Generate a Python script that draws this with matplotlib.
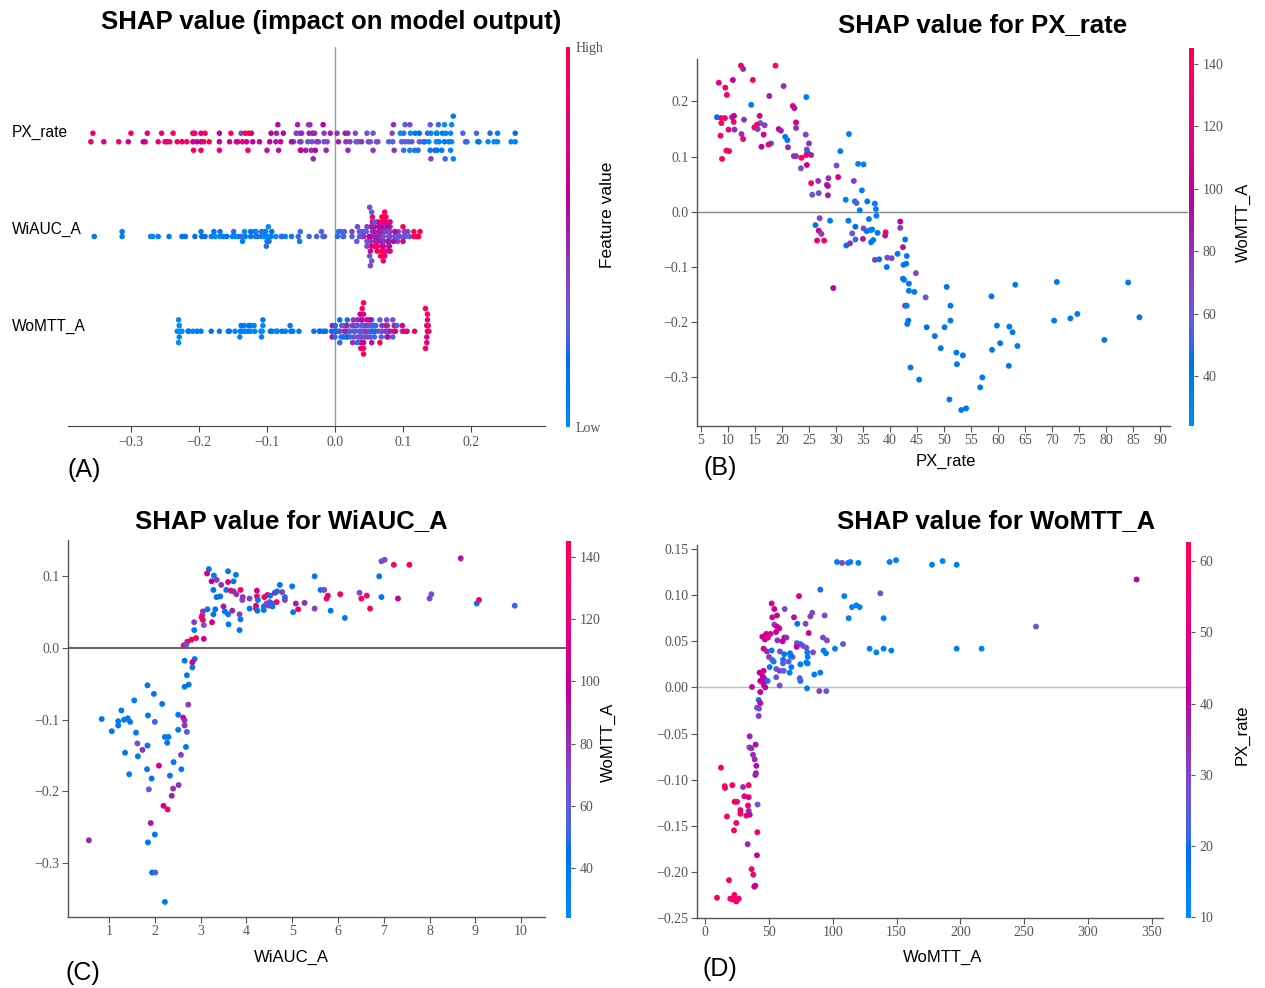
import numpy as np
import matplotlib
matplotlib.use("Agg")
import matplotlib.pyplot as plt
from matplotlib.colors import LinearSegmentedColormap, Normalize
from matplotlib.cm import ScalarMappable

# ---------------- data ----------------
# Panel B: dependence of PX_rate (x), SHAP (y), coloured by WoMTT_A
B_PX = [12.4, 12.8, 18.8, 8.3, 10.9, 14.6, 9.5, 9.8, 20.3, 17.65,
        24.5, 14.3, 22.0, 22.3, 7.96, 8.77, 9.44, 10.74, 11.11, 12.96,
        15.86, 15.99, 15.37, 14.88, 16.79, 15.49, 8.77, 11.05, 10.1, 11.2,
        8.6, 12.5, 12.8, 16.6, 19.4, 19.8, 20.6, 21.0, 22.6, 22.6,
        24.4, 25.0, 24.6, 24.7, 25.4, 17.96, 17.5, 16.2, 21.1, 22.2,
        22.6, 23.6, 24.5, 24.6, 23.5, 9.7, 10.2, 8.9,
        32.4, 30.8, 30.1, 34.1, 35.1, 30.4, 28.6, 26.7, 25.4, 28.3,
        28.5, 33.3, 25.6, 26.8, 28.5, 34.8, 31.8, 33.5, 33.8, 35.8,
        37.2, 37.4, 34.4,
        26.97, 28.9, 32.3, 37.5, 36.1, 26.2, 33.6, 26.8, 27.3, 26.5,
        27.8, 35.1, 36.4, 35.7, 37.7, 39.2, 39.1, 33.6, 35.0, 36.9,
        36.5, 31.9, 32.6, 33.0, 36.7,
        41.9, 41.9, 42.8, 42.4, 43.1, 37.2, 38.0, 39.5, 40.3, 41.4,
        42.5, 43.0, 39.4, 44.8, 42.4, 42.6, 43.5, 43.5, 44.5, 46.6,
        50.5, 42.8, 43.1, 51.2, 29.5, 43.4, 43.2, 46.8, 50.1, 51.2,
        48.3, 58.8, 59.8,
        63.2, 70.9, 84.1, 70.4, 73.4, 74.7, 86.2, 79.7, 62.1, 62.7,
        63.6, 62.0, 60.4, 58.9, 43.8, 45.4, 49.4, 52.3, 53.5, 52.4,
        57.1, 56.7, 51.0, 53.2, 54.1]
B_SHAP = [0.265, 0.259, 0.265, 0.234, 0.239, 0.239, 0.225, 0.212, 0.228, 0.210,
          0.208, 0.194, 0.192, 0.188, 0.1715, 0.170, 0.170, 0.1715, 0.174, 0.167,
          0.174, 0.161, 0.158, 0.153, 0.157, 0.150, 0.161, 0.163, 0.149, 0.149,
          0.138, 0.141, 0.132, 0.140, 0.150, 0.147, 0.136, 0.130, 0.162, 0.152,
          0.140, 0.124, 0.113, 0.108, 0.103, 0.124, 0.122, 0.118, 0.117, 0.101,
          0.101, 0.098, 0.103, 0.085, 0.079, 0.111, 0.110, 0.096,
          0.141, 0.110, 0.084, 0.087, 0.086, 0.063, 0.061, 0.056, 0.052, 0.049,
          0.047, 0.056, 0.031, 0.034, 0.030, 0.039, 0.022, 0.019, 0.016, 0.019,
          0.015, 0.005, 0.003,
          -0.0115, -0.016, -0.016, -0.007, -0.013, -0.024, -0.027, -0.034, -0.040, -0.052,
          -0.052, -0.030, -0.033, -0.035, -0.038, -0.037, -0.043, -0.050, -0.049, -0.051,
          -0.055, -0.061, -0.057, -0.039, -0.032,
          -0.0175, -0.029, -0.050, -0.064, -0.080, -0.087, -0.086, -0.083, -0.084, -0.076,
          -0.096, -0.094, -0.100, -0.111, -0.121, -0.123, -0.130, -0.143, -0.145, -0.155,
          -0.136, -0.170, -0.170, -0.170, -0.138, -0.197, -0.203, -0.209, -0.209, -0.197,
          -0.225, -0.153, -0.206,
          -0.132, -0.127, -0.128, -0.197, -0.193, -0.185, -0.191, -0.232, -0.208, -0.218,
          -0.243, -0.279, -0.238, -0.250, -0.282, -0.304, -0.247, -0.255, -0.260, -0.276,
          -0.300, -0.318, -0.340, -0.359, -0.356]
B_WOMTT = [140, 85, 140, 115, 100, 135, 135, 135, 80, 85,
           35, 35, 135, 90, 45, 125, 130, 85, 100, 80,
           110, 55, 135, 135, 75, 75, 135, 135, 130, 80,
           135, 80, 135, 110, 100, 85, 40, 40, 105, 80,
           75, 80, 70, 45, 85, 40, 135, 95, 85, 85,
           80, 135, 135, 105, 70, 135, 135, 130,
           35, 35, 70, 35, 35, 110, 80, 80, 135, 80,
           105, 75, 60, 65, 90, 35, 35, 40, 60, 40,
           35, 35, 35,
           75, 35, 40, 35, 40, 40, 45, 110, 75, 120,
           140, 70, 40, 40, 40, 140, 90, 50, 90, 40,
           40, 40, 80, 65, 40,
           95, 75, 40, 90, 40, 75, 45, 70, 70, 40,
           40, 40, 40, 75, 40, 40, 40, 40, 40, 65,
           40, 120, 35, 40, 105, 40, 40, 45, 40, 40,
           40, 40, 40,
           40, 40, 40, 40, 40, 40, 40, 40, 40, 40,
           40, 40, 40, 40, 40, 40, 40, 40, 40, 40,
           40, 40, 40, 40, 40]

# Panel C: dependence of WiAUC_A, coloured by WoMTT_A
C_WIAUC = [3.18, 3.14, 3.29, 3.35, 3.24, 3.60, 3.77, 3.72, 3.60, 3.45,
           3.28, 3.56, 3.66, 3.72, 3.87, 3.78, 3.35, 3.43, 3.92, 3.91,
           4.07, 4.23, 4.23, 4.25, 4.39, 4.46, 4.52, 4.62, 4.73, 4.78,
           4.67, 4.84, 4.84, 4.21, 4.21, 4.07, 4.24, 4.38, 4.38, 4.44,
           4.51, 4.56, 4.49, 4.57, 4.66, 5.00, 5.08, 5.27, 5.13, 5.02,
           5.49, 5.62, 5.70, 5.78, 5.75, 5.49, 5.84, 6.05, 6.15, 6.47,
           6.51, 6.63, 6.70, 6.90, 6.95, 7.02, 6.95, 7.22, 7.31, 7.56,
           8.00, 8.04, 8.68, 9.03, 9.08, 9.86,
           3.05, 3.15, 3.04, 3.28, 3.32, 3.50, 3.53, 3.69, 3.60, 3.85,
           3.87, 3.25, 3.05, 3.02, 2.86, 3.07, 2.86, 3.61, 3.85, 3.07,
           2.90, 2.80, 2.71, 2.63, 2.69,
           2.65, 2.87, 2.82, 2.82, 2.70, 2.65, 2.74, 1.84, 1.98, 1.55,
           2.16, 2.73, 1.27, 0.84, 1.20, 1.20, 1.33, 1.41, 1.46, 1.85,
           2.00, 2.51, 2.62, 2.65, 2.65, 2.51, 2.70, 1.06, 1.59, 2.22,
           2.30, 2.27, 1.62, 1.73, 1.84, 2.68, 1.35, 1.63, 2.57, 2.41,
           2.09, 1.83, 2.58, 1.44, 2.33, 1.93, 2.52, 2.40, 1.87, 2.37,
           2.19, 2.28, 1.91, 2.00, 1.85, 0.56, 1.94, 2.01, 2.22]
C_SHAP = [0.110, 0.104, 0.101, 0.095, 0.093, 0.107, 0.102, 0.093, 0.092, 0.088,
          0.081, 0.081, 0.080, 0.079, 0.081, 0.075, 0.071, 0.072, 0.071, 0.067,
          0.069, 0.080, 0.072, 0.067, 0.071, 0.074, 0.073, 0.077, 0.088, 0.078,
          0.079, 0.071, 0.067, 0.059, 0.055, 0.055, 0.052, 0.053, 0.058, 0.062,
          0.064, 0.062, 0.059, 0.058, 0.064, 0.086, 0.062, 0.063, 0.054, 0.050,
          0.100, 0.081, 0.081, 0.073, 0.069, 0.055, 0.052, 0.075, 0.042, 0.077,
          0.069, 0.073, 0.055, 0.100, 0.121, 0.123, 0.071, 0.116, 0.069, 0.116,
          0.069, 0.075, 0.125, 0.062, 0.067, 0.059,
          0.051, 0.054, 0.046, 0.047, 0.054, 0.058, 0.051, 0.052, 0.047, 0.047,
          0.040, 0.036, 0.039, 0.043, 0.036, 0.032, 0.025, 0.033, 0.025, 0.0128,
          0.0139, 0.0116, 0.0088, 0.0037, 0.0051,
          -0.0177, -0.0154, -0.020, -0.027, -0.038, -0.054, -0.051, -0.052, -0.064, -0.073,
          -0.078, -0.079, -0.087, -0.099, -0.102, -0.108, -0.100, -0.098, -0.103, -0.094,
          -0.103, -0.093, -0.097, -0.101, -0.108, -0.114, -0.117, -0.116, -0.118, -0.124,
          -0.124, -0.132, -0.133, -0.142, -0.136, -0.138, -0.146, -0.151, -0.149, -0.159,
          -0.164, -0.169, -0.169, -0.176, -0.178, -0.182, -0.191, -0.196, -0.197, -0.206,
          -0.220, -0.225, -0.244, -0.260, -0.271, -0.268, -0.313, -0.313, -0.354]
C_WOMTT = [40, 110, 40, 75, 95, 40, 40, 40, 110, 80,
           40, 40, 140, 80, 135, 80, 40, 40, 80, 75,
           75, 110, 135, 40, 135, 130, 40, 85, 40, 75,
           40, 40, 75, 110, 135, 40, 40, 40, 40, 70,
           75, 40, 75, 40, 135, 40, 85, 80, 135, 40,
           40, 40, 70, 115, 135, 75, 40, 130, 40, 70,
           135, 135, 135, 40, 70, 70, 40, 140, 100, 140,
           70, 65, 90, 40, 135, 50,
           80, 40, 65, 40, 40, 90, 40, 85, 40, 75,
           40, 110, 135, 135, 75, 70, 40, 40, 40, 110,
           135, 135, 135, 135, 65,
           40, 40, 105, 40, 40, 40, 40, 40, 40, 40,
           40, 75, 40, 40, 40, 40, 40, 40, 40, 40,
           50, 40, 110, 80, 80, 40, 55, 40, 40, 40,
           40, 40, 65, 80, 40, 40, 40, 40, 75, 40,
           110, 40, 40, 40, 40, 40, 80, 80, 60, 85,
           110, 135, 90, 40, 40, 85, 45, 55, 40]

# Panel D: dependence of WoMTT_A, coloured by PX_rate
D_WOMTT = [103.4, 107.3, 112.0, 113.8, 120.1, 144.6, 149.6, 177.8, 90.3, 73.6,
           109.1, 137.3, 115.1, 118.5, 121.1, 112.5, 139.9, 52.2, 54.3, 56.4,
           52.7, 62.4, 69.7, 84.0, 82.5, 93.7, 72.3, 78.8, 81.2, 54.3,
           56.4, 58.2, 55.6, 62.1, 63.7, 56.7, 60.8, 44.9, 48.0, 51.2,
           47.0, 49.3, 72.0, 74.7, 76.7, 79.4, 71.8, 45.9, 48.5, 52.2,
           58.7, 62.1, 66.6, 68.6, 67.1, 80.1, 80.4, 84.6, 92.4, 95.5,
           92.9, 94.7, 101.8, 108.1, 128.9, 134.2, 139.9, 145.9, 50.1, 52.5,
           53.8, 61.1, 61.1, 65.5, 67.6, 74.7, 79.4, 50.6, 55.8, 58.5,
           61.6, 66.3, 80.4, 85.6, 90.3, 74.7, 74.2, 55.8, 58.5, 79.9,
           89.5, 95.0, 42.8, 45.9, 45.2, 46.7, 43.3, 49.1, 45.9, 36.8,
           47.2, 43.3,
           186.1, 197.1, 338.0, 259.2, 197.1, 216.6,
           42.0, 43.3, 40.7, 42.3, 42.0, 35.0, 39.7, 34.7, 36.3, 37.6,
           38.9, 40.2, 39.9, 39.4, 12.5, 15.4, 15.7, 21.4, 29.8, 34.2,
           30.8, 34.2, 23.2, 25.1, 33.7, 41.2, 27.7, 27.7, 32.4, 35.0,
           34.2, 17.2, 24.5, 22.7, 41.0, 33.4, 40.7, 36.5, 37.8, 39.4,
           38.6, 18.8, 9.4, 19.8, 23.0, 24.5, 26.4, 23.8, 21.7]
D_SHAP = [0.136, 0.135, 0.135, 0.136, 0.135, 0.136, 0.138, 0.133, 0.106, 0.099,
          0.099, 0.102, 0.087, 0.089, 0.087, 0.075, 0.075, 0.091, 0.085, 0.078,
          0.076, 0.085, 0.076, 0.081, 0.077, 0.078, 0.069, 0.069, 0.059, 0.068,
          0.066, 0.064, 0.060, 0.054, 0.054, 0.051, 0.050, 0.055, 0.058, 0.058,
          0.052, 0.054, 0.048, 0.047, 0.045, 0.043, 0.044, 0.042, 0.039, 0.040,
          0.039, 0.036, 0.037, 0.033, 0.034, 0.038, 0.033, 0.038, 0.054, 0.051,
          0.040, 0.037, 0.042, 0.047, 0.042, 0.038, 0.042, 0.040, 0.033, 0.030,
          0.028, 0.030, 0.026, 0.028, 0.022, 0.025, 0.027, 0.022, 0.020, 0.018,
          0.018, 0.016, 0.026, 0.014, 0.016, 0.007, 0.010, 0.011, 0.002, -0.001,
          -0.004, -0.004, 0.016, 0.018, 0.012, 0.009, 0.007, 0.007, 0.003, 0.0005,
          0.000, -0.005,
          0.137, 0.133, 0.117, 0.066, 0.042, 0.042,
          -0.0137, -0.017, -0.022, -0.023, -0.031, -0.053, -0.062, -0.065, -0.066, -0.073,
          -0.078, -0.085, -0.093, -0.095, -0.087, -0.107, -0.109, -0.106, -0.108, -0.106,
          -0.118, -0.119, -0.124, -0.124, -0.128, -0.127, -0.133, -0.137, -0.139, -0.138,
          -0.134, -0.140, -0.147, -0.155, -0.157, -0.170, -0.182, -0.197, -0.203, -0.215,
          -0.216, -0.209, -0.228, -0.229, -0.225, -0.232, -0.229, -0.230, -0.230]
D_PX = [14, 30, 14, 14, 14, 14, 14, 14, 20, 47,
        14, 30, 14, 14, 14, 14, 14, 48, 45, 45,
        45, 30, 45, 30, 33, 30, 18, 32, 46, 33,
        45, 45, 45, 45, 35, 35, 42, 46, 46, 46,
        45, 50, 30, 16, 30, 30, 45, 45, 35, 15,
        30, 16, 16, 25, 16, 15, 15, 30, 30, 30,
        15, 15, 15, 25, 14, 14, 14, 14, 33, 25,
        15, 16, 25, 25, 15, 15, 15, 15, 25, 32,
        25, 15, 15, 15, 15, 15, 25, 25, 27, 15,
        33, 28, 42, 44, 44, 43, 43, 15, 43, 40,
        43, 42,
        14, 16, 42, 25, 14, 14,
        15, 45, 28, 28, 33, 38, 40, 28, 35, 35,
        36, 40, 40, 36, 58, 58, 58, 58, 35, 57,
        50, 50, 58, 57, 56, 26, 57, 57, 55, 45,
        36, 58, 57, 57, 55, 36, 44, 58, 57, 44,
        44, 58, 58, 58, 58, 58, 58, 58, 58]

FEATURES = ["PX_rate", "WiAUC_A", "WoMTT_A"]

# ---------------- helpers ----------------
W, H = 1265, 988
plt.rcParams['font.family'] = ['Liberation Sans', 'DejaVu Sans']


def lab_to_rgb(L, a, b):
    fy = (L + 16.0) / 116.0
    fx = fy + a / 500.0
    fz = fy - b / 200.0

    def finv(t):
        return t ** 3 if t > 6 / 29 else 3 * (6 / 29) ** 2 * (t - 4 / 29)

    xyz = np.array([0.95047 * finv(fx), finv(fy), 1.08883 * finv(fz)])
    M = np.array([[3.2406, -1.5372, -0.4986],
                  [-0.9689, 1.8758, 0.0415],
                  [0.0557, -0.2040, 1.0570]])
    out = []
    for c in M @ xyz:
        c = max(c, 0.0)
        c = 1.055 * c ** (1 / 2.4) - 0.055 if c > 0.0031308 else 12.92 * c
        out.append(min(max(c, 0.0), 1.0))
    return out


def shap_red_blue():
    blue_lch = [54., 70., 4.6588]
    l_mid = 40.
    red_lch = [54., 90., 0.35470565 + 2 * np.pi]
    n = 100
    l_vals = list(np.linspace(blue_lch[0], l_mid, n // 2)) + list(np.linspace(l_mid, red_lch[0], n // 2))
    c_vals = np.linspace(blue_lch[1], red_lch[1], n)
    h_vals = np.linspace(blue_lch[2], red_lch[2], n)
    cols = [lab_to_rgb(l, c * np.cos(h), c * np.sin(h)) for l, c, h in zip(l_vals, c_vals, h_vals)]
    return LinearSegmentedColormap.from_list("red_blue", cols)


CMAP = shap_red_blue()
TICK = dict(fontfamily='Liberation Serif', color='#555555', fontsize=10)

fig = plt.figure(figsize=(W / 100, H / 100), dpi=100)


def px_axes(l, t, r, b):
    return fig.add_axes([l / W, 1 - b / H, (r - l) / W, (b - t) / H])


def ftext(x, y, s, **kw):
    kw.setdefault('ha', 'center')
    kw.setdefault('va', 'center')
    fig.text(x / W, 1 - y / H, s, **kw)


def fmt(v, nd):
    s = f"{v:.{nd}f}"
    return s.replace('-', '\u2212')


def beeswarm(shaps, nbins=100, row_height=0.4):
    shaps = np.asarray(shaps, dtype=float)
    quant = np.round(nbins * (shaps - shaps.min()) / (shaps.max() - shaps.min() + 1e-8))
    inds = np.argsort(quant, kind='stable')
    ys = np.zeros(len(shaps))
    layer, last = 0, -1
    for ind in inds:
        if quant[ind] != last:
            layer = 0
        ys[ind] = np.ceil(layer / 2) * ((layer % 2) * 2 - 1)
        layer += 1
        last = quant[ind]
    ys *= 0.9 * (row_height / np.max(ys + 1))
    return ys


def colorbar(l, t, r, b, vmin, vmax, ticks, labels=None):
    cax = px_axes(l, t, r, b)
    sm = ScalarMappable(norm=Normalize(vmin, vmax), cmap=CMAP)
    cb = fig.colorbar(sm, cax=cax)
    cb.outline.set_visible(False)
    if labels is None:
        labels = [str(t_) for t_ in ticks]
    cb.set_ticks(ticks, labels=labels, **TICK)
    cax.tick_params(length=3, width=0.8, color='#555555', pad=3)
    return cb


def dep_axes(box, xlim, ylim, xb, xticks, yticks, ynd, zc, zlw):
    ax = px_axes(*box)
    ax.set_xlim(*xlim)
    ax.set_ylim(*ylim)
    for s in ('top', 'right'):
        ax.spines[s].set_visible(False)
    for s in ('left', 'bottom'):
        ax.spines[s].set_color('#555555')
        ax.spines[s].set_linewidth(1.0)
    ax.spines['bottom'].set_bounds(xlim[0], xb)
    ax.set_xticks(xticks, [str(v) for v in xticks], **TICK)
    ax.set_yticks(yticks, [fmt(v, ynd) for v in yticks], **TICK)
    ax.tick_params(length=4, width=0.8, color='#555555', pad=2)
    ax.axhline(0, color=zc, lw=zlw, zorder=0.5)
    return ax


# ---------------- Panel A: summary beeswarm ----------------
axA = px_axes(68, 47, 545, 426)
axA.set_xlim(-0.3926, 0.3088)
axA.set_ylim(-1, 3)
axA.axvline(0, color='#999999', lw=1, zorder=0.5)
rows = [(FEATURES[0], B_SHAP, B_PX, 2),
        (FEATURES[1], C_SHAP, C_WIAUC, 1),
        (FEATURES[2], D_SHAP, D_WOMTT, 0)]
row_label_y = {2: 132, 1: 229, 0: 326}
for name, sv, fv, pos in rows:
    sv = np.asarray(sv, float)
    fv = np.asarray(fv, float)
    vmin, vmax = np.percentile(fv, 5), np.percentile(fv, 95)
    cv = np.clip((fv - vmin) / (vmax - vmin), 0, 1)
    ys = beeswarm(sv)
    axA.scatter(sv, pos + ys, c=cv, cmap=CMAP, vmin=0, vmax=1, s=16, linewidths=0, zorder=3)
    ftext(12, row_label_y[pos], name, ha='left', fontsize=11.2)
for s in ('top', 'right', 'left'):
    axA.spines[s].set_visible(False)
axA.spines['bottom'].set_color('#444444')
axA.set_yticks([])
xt = [-0.3, -0.2, -0.1, 0.0, 0.1, 0.2]
axA.set_xticks(xt, [fmt(v, 1) for v in xt], **TICK)
axA.tick_params(axis='x', length=4, width=0.8, color='#444444', pad=3)
colorbar(566, 47, 570, 427, 0, 1, [0, 1], ['Low', 'High'])
fig.axes[-1].tick_params(length=0, pad=4)
ftext(608, 215, "Feature value", rotation=90, fontsize=12.5)
ftext(331, 22, "SHAP value (impact on model output)", fontsize=18.5, fontweight='bold')
ftext(84, 470, "(A)", fontsize=18)

# ---------------- Panel B ----------------
axB = dep_axes((697, 59, 1188, 426), (4.26, 95.19), (-0.388, 0.277), 91.85,
               list(range(5, 95, 5)), [-0.3, -0.2, -0.1, 0.0, 0.1, 0.2], 1, '#888888', 1.0)
axB.scatter(B_PX, B_SHAP, c=B_WOMTT, cmap=CMAP, vmin=24, vmax=145, s=18, linewidths=0, zorder=3)
colorbar(1189, 48, 1194, 426, 24, 145, [40, 60, 80, 100, 120, 140])
ftext(1243, 222, "WoMTT_A", rotation=90, fontsize=12)
ftext(946, 461, "PX_rate", fontsize=12)
ftext(983, 25, "SHAP value for PX_rate", fontsize=18.5, fontweight='bold')
ftext(720, 468, "(B)", fontsize=18)

# ---------------- Panel C ----------------
axC = dep_axes((68, 540, 566, 917), (0.104, 10.98), (-0.375, 0.1506), 10.52,
               list(range(1, 11)), [-0.3, -0.2, -0.1, 0.0, 0.1], 1, '#666666', 1.5)
axC.scatter(C_WIAUC, C_SHAP, c=C_WOMTT, cmap=CMAP, vmin=24, vmax=145, s=18, linewidths=0, zorder=3)
colorbar(566, 541, 571, 918, 24, 145, [40, 60, 80, 100, 120, 140])
ftext(608, 742, "WoMTT_A", rotation=90, fontsize=12)
ftext(291, 957, "WiAUC_A", fontsize=12)
ftext(291, 521, "SHAP value for WiAUC_A", fontsize=18.5, fontweight='bold')
ftext(83, 973, "(C)", fontsize=18)

# ---------------- Panel D ----------------
axD = dep_axes((697, 545, 1186, 918), (-6.26, 376.7), (-0.2494, 0.1544), 358.7,
               list(range(0, 351, 50)), [-0.25, -0.2, -0.15, -0.1, -0.05, 0.0, 0.05, 0.1, 0.15], 2,
               '#bbbbbb', 1.0)
axD.scatter(D_WOMTT, D_SHAP, c=D_PX, cmap=CMAP, vmin=9.9, vmax=62.7, s=18, linewidths=0, zorder=3)
colorbar(1186, 542, 1191, 918, 9.9, 62.7, [10, 20, 30, 40, 50, 60])
ftext(1242, 735, "PX_rate", rotation=90, fontsize=12)
ftext(943, 957, "WoMTT_A", fontsize=12)
ftext(996, 521, "SHAP value for WoMTT_A", fontsize=18.5, fontweight='bold')
ftext(720, 969, "(D)", fontsize=18)

fig.savefig("out.png", dpi=100)
